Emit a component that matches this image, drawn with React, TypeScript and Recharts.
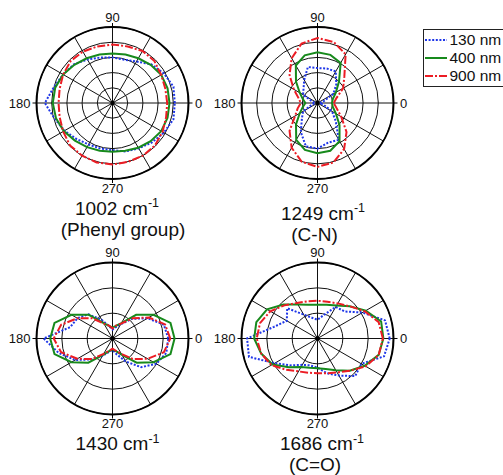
import React from 'react';
import { RadarChart, Radar, PolarGrid, PolarAngleAxis, PolarRadiusAxis } from 'recharts';

// polarization angle of each sample (deg)
const ANGLES = [0, 15, 30, 45, 60, 75, 90, 105, 120, 135, 150, 165, 180, 195, 210, 225, 240, 255, 270, 285, 300, 315, 330, 345];
const SPOKES = [0, 30, 60, 90, 120, 150, 180, 210, 240, 270, 300, 330];
const LABEL_ANGLES = [0, 90, 180, 270];
const RINGS_TOP = [0, 1, 2, 3, 4, 5];
const RINGS_BOTTOM = [0, 1, 2, 3];

// 1002 cm-1 (Phenyl group)
const P1_130 = [4.1, 4.15, 3.9, 3.6, 3.15, 2.95, 3.0, 3.1, 3.3, 3.6, 3.75, 4.0, 4.45, 3.95, 3.65, 3.35, 3.15, 3.1, 3.1, 3.3, 3.45, 3.67, 3.9, 4.15];
const P1_400 = [3.75, 3.75, 3.7, 3.55, 3.4, 3.3, 3.25, 3.3, 3.4, 3.55, 3.75, 3.9, 3.93, 3.85, 3.7, 3.5, 3.35, 3.25, 3.2, 3.25, 3.4, 3.55, 3.7, 3.75];
const P1_900 = [3.6, 3.6, 3.7, 3.9, 3.95, 3.85, 3.85, 3.85, 3.9, 3.9, 3.75, 3.6, 3.55, 3.6, 3.75, 3.95, 4.0, 4.05, 4.05, 4.0, 4.0, 3.95, 3.8, 3.65];

// 1249 cm-1 (C-N)
const P2_130 = [0.15, 0.4, 1.2, 1.75, 2.4, 2.35, 2.3, 2.45, 1.75, 1.3, 1.1, 0.35, 0.15, 0.35, 1.1, 1.45, 2.2, 2.95, 3.0, 2.7, 2.8, 1.7, 1.1, 0.4];
const P2_400 = [0.95, 1.05, 1.4, 2.0, 3.05, 3.28, 3.33, 3.25, 2.85, 2.0, 1.35, 1.0, 0.8, 1.0, 1.35, 2.0, 2.8, 3.2, 3.3, 3.25, 2.9, 2.05, 1.4, 1.05];
const P2_900 = [1.07, 1.3, 1.95, 2.5, 3.7, 4.15, 4.28, 4.05, 3.4, 2.6, 1.8, 1.3, 1.1, 1.35, 1.7, 2.6, 3.4, 4.0, 4.2, 4.05, 3.5, 2.7, 1.8, 1.3];

// 1430 cm-1
const P3_130 = [2.2, 2.1, 1.6, 1.1, 0.65, 0.45, 0.35, 0.5, 0.85, 1.35, 1.6, 1.73, 2.72, 2.2, 1.7, 1.17, 0.8, 0.55, 0.45, 0.65, 1.05, 1.6, 2.0, 2.2];
const P3_400 = [2.45, 2.37, 1.87, 1.32, 0.7, 0.52, 0.43, 0.52, 0.7, 1.32, 1.87, 2.37, 2.46, 2.37, 1.87, 1.35, 0.75, 0.52, 0.43, 0.52, 0.75, 1.35, 1.87, 2.37];
const P3_900 = [2.28, 2.15, 1.66, 1.13, 0.68, 0.53, 0.4, 0.53, 0.68, 1.13, 1.6, 2.1, 2.32, 2.1, 1.6, 1.15, 0.7, 0.5, 0.4, 0.5, 0.7, 1.15, 1.6, 2.1];

// 1686 cm-1 (C=O)
const P4_130 = [2.85, 2.76, 2.05, 1.51, 1.44, 0.96, 0.74, 0.85, 1.09, 1.69, 1.4, 1.78, 2.78, 2.8, 1.95, 1.5, 1.2, 1.1, 1.15, 1.42, 1.69, 2.1, 2.0, 2.72];
const P4_400 = [2.6, 2.6, 2.2, 1.8, 1.5, 1.38, 1.33, 1.38, 1.55, 1.9, 2.3, 2.5, 2.5, 2.3, 2.05, 1.6, 1.3, 1.2, 1.17, 1.25, 1.45, 1.8, 2.15, 2.5];
const P4_900 = [2.58, 2.5, 2.15, 1.8, 1.6, 1.5, 1.49, 1.52, 1.62, 1.85, 2.15, 2.35, 2.4, 2.3, 2.1, 1.75, 1.5, 1.4, 1.37, 1.42, 1.55, 1.8, 2.2, 2.5];

const SERIES = [
  { key: 's130', name: '130 nm', color: '#1e36e8', dash: '2 1.6' },
  { key: 's400', name: '400 nm', color: '#178a1c', dash: undefined },
  { key: 's900', name: '900 nm', color: '#ec1c24', dash: '8 2 2 2' },
];

const FONT = '"Liberation Sans", Arial, Helvetica, sans-serif';

const buildRows = (a: number[], b: number[], c: number[]) =>
  ANGLES.map((angle, i) => ({ angle, s130: a[i], s400: b[i], s900: c[i] }));

const PLOTS = [
  { id: 'p1', cx: 112.5, cy: 103, max: 5, rings: RINGS_TOP, rows: buildRows(P1_130, P1_400, P1_900) },
  { id: 'p2', cx: 317.5, cy: 103, max: 5, rings: RINGS_TOP, rows: buildRows(P2_130, P2_400, P2_900) },
  { id: 'p3', cx: 112.5, cy: 338.5, max: 3, rings: RINGS_BOTTOM, rows: buildRows(P3_130, P3_400, P3_900) },
  { id: 'p4', cx: 317.5, cy: 338.5, max: 3, rings: RINGS_BOTTOM, rows: buildRows(P4_130, P4_400, P4_900) },
];

const TITLES = [
  { text: '1002 cm', sup: '-1', x: 117, y: 214.5 },
  { text: '(Phenyl group)', sup: '', x: 123, y: 236 },
  { text: '1249 cm', sup: '-1', x: 323, y: 219.5 },
  { text: '(C-N)', sup: '', x: 314.5, y: 241 },
  { text: '1430 cm', sup: '-1', x: 117.5, y: 450 },
  { text: '1686 cm', sup: '-1', x: 322, y: 450 },
  { text: '(C=O)', sup: '', x: 315, y: 471 },
];

// angle labels 0 / 90 / 180 / 270 outside the circle
const AngleTick = (props: any) => {
  const { x, y, payload } = props;
  const v = payload.value;
  let tx = x;
  let ty = y;
  let anchor = 'middle';
  let dy = '0.35em';
  if (v === 0) {
    tx = x + 2.5;
    anchor = 'start';
  } else if (v === 180) {
    tx = x - 2;
    anchor = 'end';
  } else if (v === 90) {
    ty = y - 1.5;
    dy = '0';
  } else {
    ty = y + 0.5;
    dy = '0.72em';
  }
  return (
    <text x={tx} y={ty} dy={dy} textAnchor={anchor} fontSize={13} fill="#111" fontFamily={FONT}>
      {v}
    </text>
  );
};

// only the 0 tick of the radius axis is drawn: the dot in the middle
const CenterDot = (props: any) =>
  props.payload.value === 0 ? <circle cx={props.x} cy={props.y} r={2.2} fill="#000" /> : <g />;

export default function App() {
  return (
    <div style={{ position: 'absolute', left: 0, top: 0, width: 503, height: 475, overflow: 'hidden', background: '#fff', fontFamily: FONT }}>
      {PLOTS.map((p) => (
        <div key={p.id} style={{ position: 'absolute', left: 0, top: 0 }}>
          <RadarChart
            width={503}
            height={475}
            data={p.rows}
            cx={p.cx}
            cy={p.cy}
            innerRadius={0}
            outerRadius={76}
            startAngle={0}
            endAngle={360}
            margin={{ top: 0, right: 0, bottom: 0, left: 0 }}
          >
            <PolarGrid gridType="circle" polarAngles={SPOKES} stroke="#111" strokeWidth={1} />
            {SERIES.map((s) => (
              <Radar
                key={s.key}
                dataKey={s.key}
                name={s.name}
                stroke={s.color}
                strokeWidth={2}
                strokeDasharray={s.dash}
                fill="none"
                fillOpacity={0}
                dot={false}
                isAnimationActive={false}
              />
            ))}
            <PolarAngleAxis
              dataKey="angle"
              type="number"
              domain={[0, 360]}
              ticks={LABEL_ANGLES}
              tick={AngleTick}
              tickSize={4}
              stroke="#000"
              tickLine={{ stroke: '#000', strokeWidth: 1 }}
              axisLine={{ stroke: '#000', strokeWidth: 2 }}
              axisLineType="circle"
            />
            <PolarRadiusAxis
              angle={0}
              type="number"
              domain={[0, p.max]}
              ticks={p.rings}
              tickCount={p.rings.length}
              tick={CenterDot}
              axisLine={false}
            />
          </RadarChart>
        </div>
      ))}

      <svg width={503} height={475} style={{ position: 'absolute', left: 0, top: 0, pointerEvents: 'none' }}>
        {TITLES.map((t, i) => (
          <text key={i} x={t.x} y={t.y} textAnchor="middle" fontSize={19} fill="#111" fontFamily={FONT}>
            {t.text}
            {t.sup ? (
              <tspan dy={-7.5} fontSize={12.5}>
                {t.sup}
              </tspan>
            ) : null}
          </text>
        ))}
      </svg>

      <div
        style={{
          position: 'absolute',
          left: 423,
          top: 29,
          width: 100,
          height: 58,
          border: '1.5px solid #222',
          boxSizing: 'border-box',
          background: '#fff',
        }}
      >
        {SERIES.map((s, i) => (
          <div key={s.key} style={{ position: 'absolute', left: 0, top: 1 + i * 18, height: 18, display: 'flex', alignItems: 'center', whiteSpace: 'nowrap' }}>
            <svg width={25} height={18}>
              <line x1={1} x2={23} y1={9} y2={9} stroke={s.color} strokeWidth={2} strokeDasharray={s.dash} />
            </svg>
            <span style={{ fontSize: 15.5, lineHeight: '18px', color: '#111', marginLeft: 0.5 }}>{s.name}</span>
          </div>
        ))}
      </div>
    </div>
  );
}
